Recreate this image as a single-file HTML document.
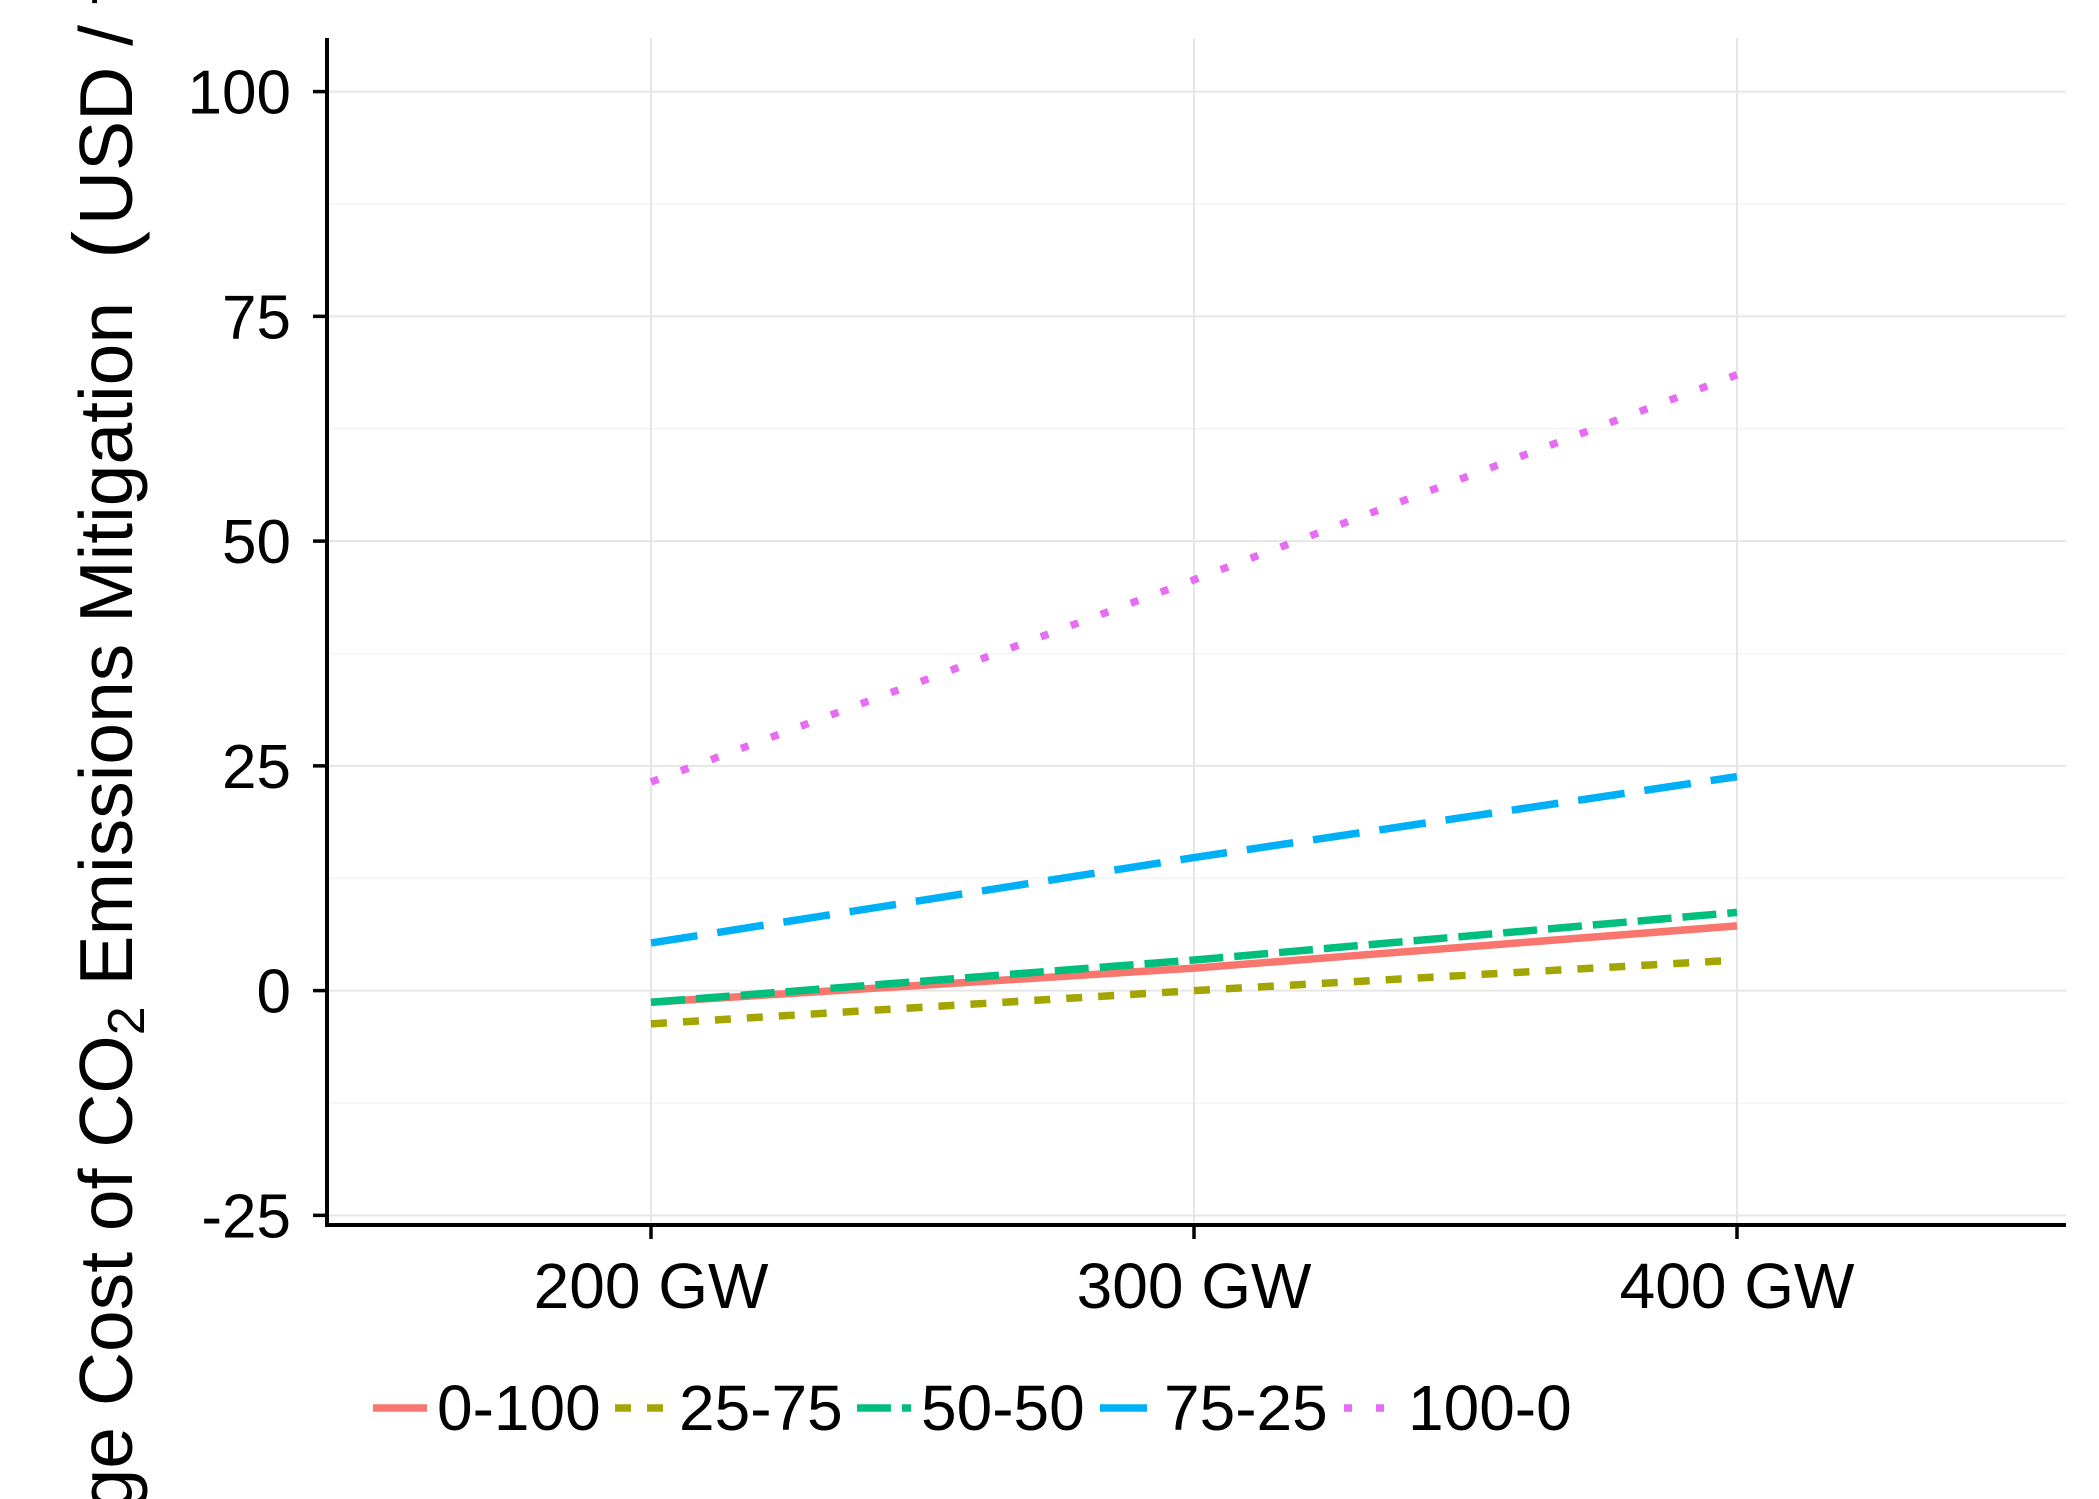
<!DOCTYPE html>
<html><head><meta charset="utf-8"><style>
html,body{margin:0;padding:0;background:#fff;overflow:hidden;width:2099px;height:1499px}
svg{display:block}
svg text{font-family:"Liberation Sans",sans-serif;fill:#000}
</style></head><body>
<svg id="chart" width="2099" height="1499" viewBox="0 0 2099 1499" xmlns="http://www.w3.org/2000/svg">
<g id="grid"></g>
<g id="series"></g>
<g id="axes"></g>
<g id="legend"></g>
<text transform="translate(132,1427) rotate(-90)" font-size="75" text-anchor="end">Average </text>
<text transform="translate(132,1427) rotate(-90)" font-size="75" xml:space="preserve"> Cost of CO<tspan font-size="52" dy="12">2</tspan><tspan dy="-12"> Emissions Mitigation </tspan><tspan dx="22" font-size="84">(</tspan><tspan dx="6">USD / tCO</tspan><tspan font-size="52" dy="12">2</tspan><tspan dy="-12" font-size="84">)</tspan></text>
</svg>
<script>
const categories = ["200 GW","300 GW","400 GW"];
const yTicks = [-25,0,25,50,75,100];
const yMinor = [-12.5,12.5,37.5,62.5,87.5];
const seriesNames = ["0-100","25-75","50-50","75-25","100-0"];
const s0 = [-1.3, 2.5, 7.2];
const s1 = [-3.7, 0.0, 3.4];
const s2 = [-1.3, 3.4, 8.7];
const s3 = [5.3, 14.8, 23.8];
const s4 = [23.2, 45.7, 68.5];
const seriesValues = [s0,s1,s2,s3,s4];
const colors = ["#F8766D","#A3A500","#00BF7D","#00B0F6","#E76BF3"];
const dashes = ["none","16,16","34,11","47,20","8,24"];

const NS="http://www.w3.org/2000/svg";
const L=327,R=2066,T=38,B=1225;
function x(i){return 651+i*543;}
function y(v){return 990.6-v*8.99;}
function mk(tag,attrs,parent){const e=document.createElementNS(NS,tag);for(const k in attrs)e.setAttribute(k,attrs[k]);parent.appendChild(e);return e;}
const grid=document.getElementById('grid'),ser=document.getElementById('series'),ax=document.getElementById('axes'),lg=document.getElementById('legend');
yMinor.forEach(v=>{const e=mk('line',{x1:L,x2:R,y1:y(v),y2:y(v),stroke:'#f6f6f6','stroke-width':2},grid);

});
yTicks.forEach(v=>{const e=mk('line',{x1:L,x2:R,y1:y(v),y2:y(v),stroke:'#e6e6e6','stroke-width':2},grid);

});
categories.forEach((c,i)=>{const e=mk('line',{x1:x(i),x2:x(i),y1:T,y2:B,stroke:'#e6e6e6','stroke-width':2},grid);

});
seriesValues.forEach((vals,si)=>{const pts=vals.map((v,i)=>x(i)+','+y(v)).join(' ');
const e=mk('polyline',{points:pts,fill:'none',stroke:colors[si],'stroke-width':7.5,'stroke-dasharray':dashes[si]},ser);

});
let a=mk('line',{x1:L,x2:L,y1:T,y2:B+2,stroke:'#000','stroke-width':4},ax);


a=mk('line',{x1:L-2,x2:R,y1:B,y2:B,stroke:'#000','stroke-width':4},ax);


yTicks.forEach(v=>{const t=mk('line',{x1:L-14,x2:L,y1:y(v),y2:y(v),stroke:'#000','stroke-width':3.5},ax);


const tx=mk('text',{x:L-36,y:y(v)+22,'font-size':62,'text-anchor':'end'},ax);tx.textContent=v;

});
categories.forEach((c,i)=>{const t=mk('line',{x1:x(i),x2:x(i),y1:B,y2:B+14,stroke:'#000','stroke-width':3.5},ax);


const tx=mk('text',{x:x(i),y:1308,'font-size':64,'text-anchor':'middle'},ax);tx.textContent=c;

});
const keyX=[373,615,857,1100,1344];
seriesNames.forEach((n,si)=>{const g=mk('g',{},lg);


mk('line',{x1:keyX[si],x2:keyX[si]+54,y1:1408,y2:1408,stroke:colors[si],'stroke-width':7.5,'stroke-dasharray':dashes[si]},g);
const tx=mk('text',{x:keyX[si]+64,y:1430,'font-size':64},g);tx.textContent=n;

});
</script>
</body></html>
